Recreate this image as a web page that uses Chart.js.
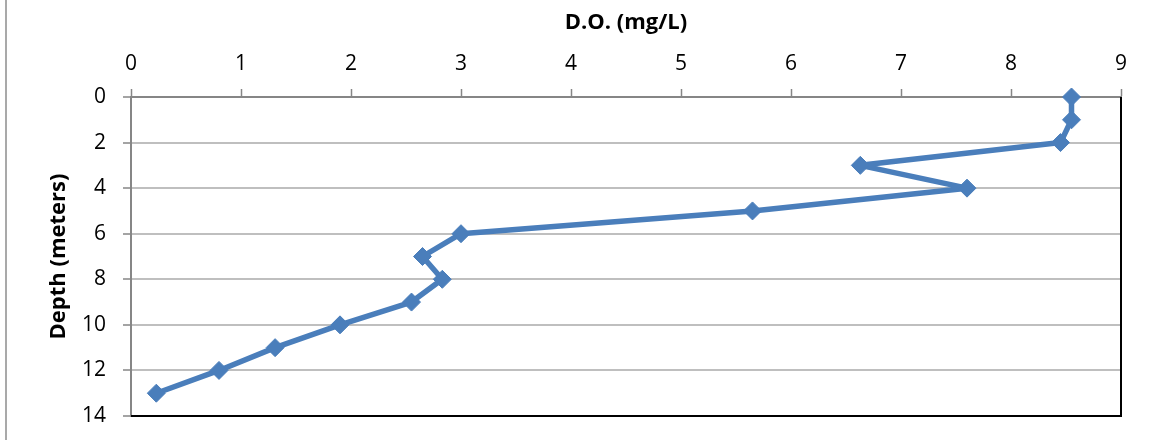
<!DOCTYPE html>
<html>
<head>
<meta charset="utf-8">
<script src="https://cdn.jsdelivr.net/npm/chart.js@4.4.1/dist/chart.umd.min.js"></script>
<style>
  html, body { margin: 0; padding: 0; background: #fff; }
  #wrap { width: 1153px; height: 440px; }
</style>
</head>
<body>
<div id="wrap"><canvas id="graph" width="1153" height="440"></canvas></div>
<script>
// depth in meters, dissolved oxygen in mg/L
var depths = [0, 1, 2, 3, 4, 5, 6, 7, 8, 9, 10, 11, 12, 13];
var oxygen = [8.55, 8.55, 8.45, 6.63, 7.6, 5.65, 3.0, 2.65, 2.83, 2.55, 1.9, 1.31, 0.8, 0.23];

var xTitle = 'D.O. (mg/L)';
var yTitle = 'Depth (meters)';

var lineColor = '#4A7EBB';

function getPoints() {
    var points = [];
    for (let index = 0; index < depths.length; index++) {
        points.push({ x: oxygen[index], y: depths[index] });
    }
    return points;
}

// black frame on the right and bottom, plus the outer chart edge on the left
const framePlugin = {
    id: 'frame',
    beforeDatasetsDraw(chart) {
        const ctx = chart.ctx;
        const a = chart.chartArea;
        ctx.save();
        ctx.strokeStyle = '#000';
        ctx.lineWidth = 2;
        ctx.beginPath();
        ctx.moveTo(a.right, a.top);
        ctx.lineTo(a.right, a.bottom);
        ctx.lineTo(a.left, a.bottom);
        ctx.stroke();
        ctx.strokeStyle = '#8C8C8C';
        ctx.lineWidth = 1.5;
        ctx.beginPath();
        ctx.moveTo(6, 0);
        ctx.lineTo(6, chart.height);
        ctx.stroke();
        ctx.restore();
    }
};

Chart.defaults.font.family = '"Open Sans", sans-serif';
Chart.defaults.color = '#000';

const config = {
    type: 'scatter',
    data: {
        datasets: [{
            data: getPoints(),
            showLine: true,
            clip: false,
            borderColor: lineColor,
            backgroundColor: lineColor,
            borderWidth: 5.5,
            borderJoinStyle: 'round',
            pointStyle: 'rectRot',
            pointRadius: 9,
            pointHoverRadius: 9,
            pointBorderWidth: 1,
            pointBorderColor: lineColor
        }]
    },
    options: {
        responsive: false,
        animation: false,
        layout: { padding: { left: 0, top: 0, right: 32, bottom: 24 } },
        plugins: {
            legend: { display: false },
            tooltip: { enabled: false }
        },
        scales: {
            x: {
                type: 'linear',
                position: 'top',
                min: 0,
                max: 9,
                ticks: { stepSize: 1, padding: 12, font: { size: 21 } },
                grid: { drawOnChartArea: false, tickLength: 8, tickColor: '#868686', tickWidth: 1.5 },
                border: { color: '#868686', width: 2 },
                title: {
                    display: true,
                    text: xTitle,
                    font: { size: 22, weight: 'bold' },
                    padding: { top: 10, bottom: 0 }
                },
                afterFit(scale) { scale.height = 97; }
            },
            y: {
                type: 'linear',
                reverse: true,
                min: 0,
                max: 14,
                ticks: { stepSize: 2, padding: 17, font: { size: 21 } },
                grid: { color: '#BFBFBF', lineWidth: 2, tickLength: 8, tickColor: '#868686', tickWidth: 1.5 },
                border: { color: '#868686', width: 2 },
                title: {
                    display: true,
                    text: yTitle,
                    font: { size: 22, weight: 'bold' },
                    padding: { top: 46, bottom: 0 }
                },
                afterFit(scale) {
                    scale.width = 131;
                    scale.paddingBottom = 0;
                }
            }
        }
    },
    plugins: [framePlugin]
};

new Chart(document.getElementById('graph'), config);
</script>
</body>
</html>
